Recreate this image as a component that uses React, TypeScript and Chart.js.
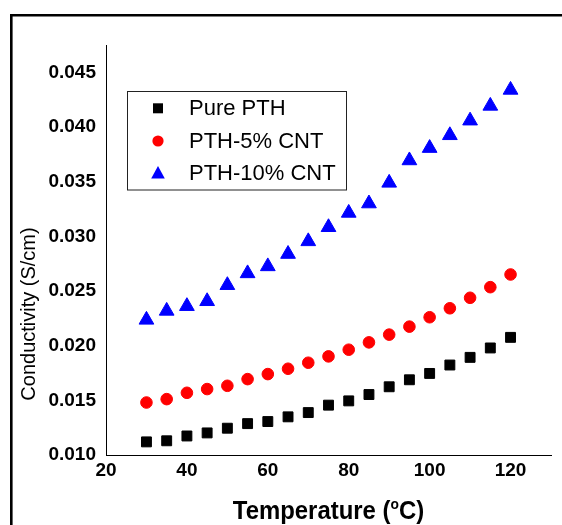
import React, { useEffect, useRef } from 'react';
import { Chart, registerables } from 'chart.js';

Chart.register(...registerables);

const temperatures = [30, 35, 40, 45, 50, 55, 60, 65, 70, 75, 80, 85, 90, 95, 100, 105, 110, 115, 120];
const purePTH = [0.0112, 0.0113, 0.01174, 0.01202, 0.01245, 0.01287, 0.01306, 0.01349, 0.01388, 0.01456, 0.01495, 0.01553, 0.01624, 0.01688, 0.01746, 0.01823, 0.01893, 0.01979, 0.02076];
const pth5CNT = [0.0148, 0.01511, 0.01569, 0.01603, 0.01633, 0.01694, 0.0174, 0.01789, 0.01844, 0.01902, 0.01963, 0.0203, 0.02101, 0.02174, 0.0226, 0.02342, 0.02438, 0.02535, 0.02651];
const pth10CNT = [0.02236, 0.02318, 0.02361, 0.02406, 0.02553, 0.02661, 0.02725, 0.02838, 0.02954, 0.03083, 0.03214, 0.033, 0.03489, 0.03694, 0.03807, 0.03924, 0.04058, 0.04193, 0.04339];
const seriesLabels = ['Pure PTH', 'PTH-5% CNT', 'PTH-10% CNT'];
const xTicks = [20, 40, 60, 80, 100, 120];
const yTicks = [0.01, 0.015, 0.02, 0.025, 0.03, 0.035, 0.04, 0.045];
const xTitleMain = 'Temperature (';
const xTitleSup = 'o';
const xTitleEnd = 'C)';
const yTitle = 'Conductivity (S/cm)';

const FONT = "'Liberation Sans', Arial, 'DejaVu Sans', sans-serif";

function toPoints(values: number[]) {
  return values.map((v, i) => ({ x: temperatures[i], y: v }));
}

function drawMarker(ctx: CanvasRenderingContext2D, style: string, x: number, y: number, color: string) {
  ctx.fillStyle = color;
  ctx.beginPath();
  if (style === 'rect') {
    ctx.rect(x - 5, y - 5, 10, 10);
  } else if (style === 'circle') {
    ctx.arc(x, y, 5.6, 0, Math.PI * 2);
  } else {
    ctx.moveTo(x, y - 7.5);
    ctx.lineTo(x + 6.8, y + 5);
    ctx.lineTo(x - 6.8, y + 5);
    ctx.closePath();
  }
  ctx.fill();
}

const decorPlugin = {
  id: 'decor',
  afterDraw(chart: any) {
    const ctx: CanvasRenderingContext2D = chart.ctx;
    ctx.save();
    // outer frame
    ctx.strokeStyle = '#000';
    ctx.lineWidth = 2.6;
    ctx.beginPath();
    ctx.moveTo(11.3, 525);
    ctx.lineTo(11.3, 15.3);
    ctx.lineTo(562, 15.3);
    ctx.stroke();

    // legend box
    ctx.lineWidth = 1;
    ctx.strokeStyle = '#222';
    ctx.strokeRect(127.5, 91.5, 219, 98.5);
    const rows = [108.3, 141, 173.5];
    ctx.font = `22px ${FONT}`;
    ctx.textBaseline = 'middle';
    ctx.textAlign = 'left';
    chart.data.datasets.forEach((ds: any, i: number) => {
      drawMarker(ctx, ds.pointStyle, 158, rows[i], ds.backgroundColor);
      ctx.fillStyle = '#000';
      ctx.fillText(ds.label, 189, rows[i] + 0.5);
    });

    // y title
    ctx.save();
    ctx.translate(29, 314);
    ctx.rotate(-Math.PI / 2);
    ctx.font = `20px ${FONT}`;
    ctx.textAlign = 'center';
    ctx.textBaseline = 'middle';
    ctx.fillStyle = '#000';
    ctx.fillText(yTitle, 0, 0);
    ctx.restore();

    // x title with superscript
    ctx.save();
    const mainFont = `bold 26px ${FONT}`;
    const supFont = `bold 15px ${FONT}`;
    ctx.font = mainFont;
    const w1 = ctx.measureText(xTitleMain).width;
    const w3 = ctx.measureText(xTitleEnd).width;
    ctx.font = supFont;
    const w2 = ctx.measureText(xTitleSup).width;
    const total = w1 + w2 + w3;
    const cx = (chart.chartArea.left + chart.chartArea.right) / 2;
    ctx.translate(cx, 518.5);
    ctx.scale(0.92, 1);
    ctx.textBaseline = 'alphabetic';
    ctx.textAlign = 'left';
    ctx.fillStyle = '#000';
    let x = -total / 2;
    ctx.font = mainFont;
    ctx.fillText(xTitleMain, x, 0);
    x += w1;
    ctx.font = supFont;
    ctx.fillText(xTitleSup, x, -10);
    x += w2;
    ctx.font = mainFont;
    ctx.fillText(xTitleEnd, x, 0);
    ctx.restore();

    ctx.restore();
  },
};

export default function App() {
  const canvasRef = useRef<HTMLCanvasElement | null>(null);

  useEffect(() => {
    if (!canvasRef.current) return;
    const chart = new Chart(canvasRef.current, {
      type: 'scatter',
      data: {
        datasets: [
          {
            label: seriesLabels[0],
            data: toPoints(purePTH),
            pointStyle: 'rect',
            pointRadius: 7,
            borderWidth: 1,
            backgroundColor: '#000000',
            borderColor: '#000000',
          },
          {
            label: seriesLabels[1],
            data: toPoints(pth5CNT),
            pointStyle: 'circle',
            pointRadius: 5.8,
            borderWidth: 1,
            backgroundColor: '#ff0000',
            borderColor: '#ff0000',
          },
          {
            label: seriesLabels[2],
            data: toPoints(pth10CNT),
            pointStyle: 'triangle',
            pointRadius: 8.5,
            borderWidth: 1,
            backgroundColor: '#0000ff',
            borderColor: '#0000ff',
          },
        ],
      },
      options: {
        animation: false,
        responsive: false,
        events: [],
        layout: { padding: { top: 45, right: 11, left: 0, bottom: 0 } },
        plugins: {
          legend: { display: false },
          tooltip: { enabled: false },
          title: { display: false },
        },
        scales: {
          x: {
            type: 'linear',
            min: 20,
            max: 130,
            grid: { display: false, drawTicks: false },
            border: { display: true, color: '#000', width: 1 },
            afterBuildTicks: (s: any) => {
              s.ticks = xTicks.map((v) => ({ value: v }));
            },
            afterFit: (s: any) => {
              s.height = 70;
            },
            ticks: {
              color: '#000',
              padding: 4,
              maxRotation: 0,
              autoSkip: false,
              font: { family: FONT, size: 19, weight: 'bold' },
              callback: (v: any) => String(v),
            },
          },
          y: {
            type: 'linear',
            min: 0.01,
            max: 0.0475,
            grid: { display: false, drawTicks: false },
            border: { display: true, color: '#000', width: 1 },
            afterBuildTicks: (s: any) => {
              s.ticks = yTicks.map((v) => ({ value: v }));
            },
            afterFit: (s: any) => {
              s.width = 106;
            },
            ticks: {
              color: '#000',
              padding: 10,
              autoSkip: false,
              font: { family: FONT, size: 19, weight: 'bold' },
              callback: (v: any) => Number(v).toFixed(3),
            },
          },
        },
      } as any,
      plugins: [decorPlugin],
    });
    return () => chart.destroy();
  }, []);

  return (
    <div style={{ position: 'fixed', left: 0, top: 0, width: 562, height: 525, background: '#fff' }}>
      <canvas ref={canvasRef} width={562} height={525} style={{ display: 'block' }} />
    </div>
  );
}
